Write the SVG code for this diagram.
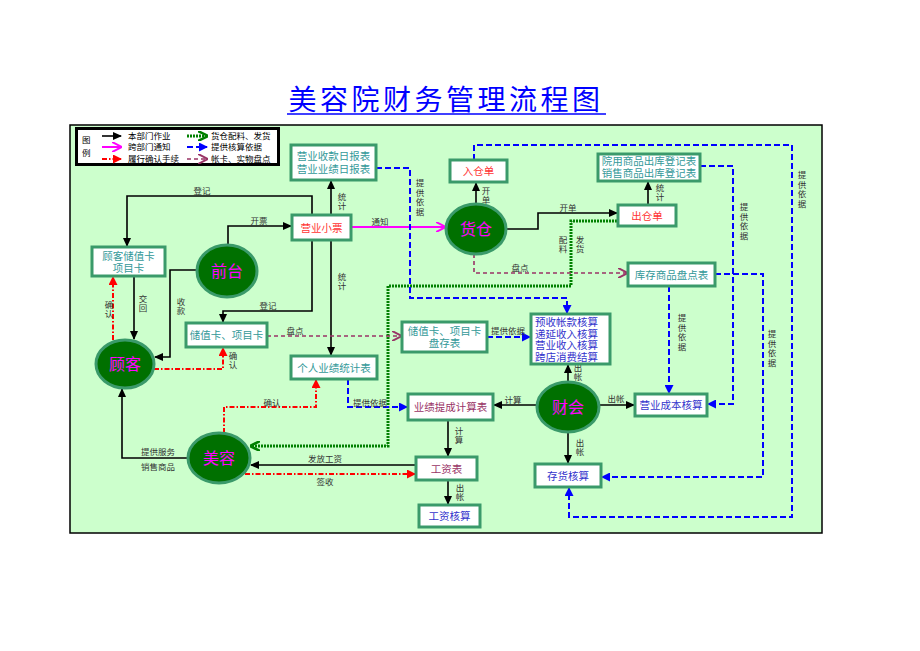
<svg xmlns="http://www.w3.org/2000/svg" width="920" height="651" viewBox="0 0 920 651">
<defs>
<marker id="aK" markerUnits="userSpaceOnUse" markerWidth="9" markerHeight="8" refX="8" refY="4" orient="auto"><path d="M0,0 L9,4 L0,8 z" fill="#000"/></marker>
<marker id="aM" markerUnits="userSpaceOnUse" markerWidth="10" markerHeight="10" refX="9" refY="5" orient="auto"><path d="M0,0 L10,5 L0,10" fill="none" stroke="#FF00FF" stroke-width="2"/></marker>
<marker id="aR" markerUnits="userSpaceOnUse" markerWidth="9" markerHeight="9" refX="8" refY="4.5" orient="auto"><path d="M0,0 L9,4.5 L0,9 z" fill="#FF0000"/></marker>
<marker id="aB" markerUnits="userSpaceOnUse" markerWidth="9" markerHeight="9" refX="8" refY="4.5" orient="auto"><path d="M0,0 L9,4.5 L0,9 z" fill="#0000FF"/></marker>
<marker id="aP" markerUnits="userSpaceOnUse" markerWidth="10" markerHeight="10" refX="9" refY="5" orient="auto"><path d="M0,0 L10,5 L0,10" fill="none" stroke="#993366" stroke-width="2"/></marker>
<marker id="aG" markerUnits="userSpaceOnUse" markerWidth="10" markerHeight="10" refX="9" refY="5" orient="auto"><path d="M0,0 L10,5 L0,10" fill="none" stroke="#008000" stroke-width="2.5"/></marker>
</defs>
<style>
text{font-family:"Noto Sans CJK SC","Noto Sans",sans-serif;}
.box{fill:#fff;stroke:#3A9A6A;stroke-width:3;}
.ell{fill:#007000;stroke:#3A9A6A;stroke-width:3;}
.et{font-size:16px;fill:#FF00FF;text-anchor:middle;}
.tt{font-size:10.5px;fill:#339999;text-anchor:middle;}
.tr{font-size:10.5px;fill:#FF3333;text-anchor:middle;}
.tb{font-size:10.5px;fill:#3333CC;text-anchor:middle;}
.ts{font-size:10.5px;fill:#3333CC;text-anchor:start;}
.tm{font-size:10.5px;fill:#993366;text-anchor:middle;}
.lb{font-size:8.5px;fill:#333;text-anchor:middle;}
.v{font-size:8.5px;fill:#333;text-anchor:middle;writing-mode:vertical-rl;letter-spacing:1.2px;}
.lg{font-size:8.5px;fill:#000;}
.k{fill:none;stroke:#000;stroke-width:1.6;}
.m{fill:none;stroke:#FF00FF;stroke-width:2;}
.r{fill:none;stroke:#FF0000;stroke-width:2;stroke-dasharray:5,2,1.5,2;}
.b{fill:none;stroke:#0000FF;stroke-width:2;stroke-dasharray:6,3;}
.p{fill:none;stroke:#993366;stroke-width:1.6;stroke-dasharray:4,3;}
.g{fill:none;stroke:#008000;stroke-width:3;stroke-dasharray:2,1;}
</style>
<rect width="920" height="651" fill="#fff"/>
<text x="446" y="110" font-size="28" fill="#0000FF" text-anchor="middle" letter-spacing="3.5">美容院财务管理流程图</text>
<line x1="287" y1="114" x2="606" y2="114" stroke="#0000FF" stroke-width="1.5"/>
<rect x="70" y="125" width="752" height="408" fill="#CCFFCC" stroke="#000" stroke-width="1.5"/>

<g id="legend">
<rect x="76.5" y="128.5" width="202" height="36" fill="#fff" stroke="#000" stroke-width="3"/>
<text class="lg" x="82" y="143"><tspan x="82" y="143">图</tspan><tspan x="82" y="156">例</tspan></text>
<line x1="102" y1="136" x2="121" y2="136" class="k" marker-end="url(#aK)"/>
<text class="lg" x="128" y="139">本部门作业</text>
<line x1="102" y1="147" x2="121" y2="147" class="m" marker-end="url(#aM)"/>
<text class="lg" x="128" y="150">跨部门通知</text>
<line x1="102" y1="159" x2="121" y2="159" class="r" marker-end="url(#aR)"/>
<text class="lg" x="128" y="162">履行确认手续</text>
<line x1="187" y1="136" x2="207" y2="136" class="g" marker-end="url(#aG)"/>
<text class="lg" x="211" y="139">货仓配料、发货</text>
<line x1="187" y1="147" x2="207" y2="147" class="b" marker-end="url(#aB)"/>
<text class="lg" x="211" y="150">提供核算依据</text>
<line x1="187" y1="159" x2="207" y2="159" class="p" marker-end="url(#aP)"/>
<text class="lg" x="211" y="162">帐卡、实物盘点</text>
</g>

<g id="connectors">
<path class="k" d="M312,215 V196 H127 V246" marker-end="url(#aK)"/>
<path class="k" d="M228,245 V226 H291" marker-end="url(#aK)"/>
<path class="k" d="M197,270 H170 V357 H155" marker-end="url(#aK)"/>
<path class="k" d="M134,276 V339" marker-end="url(#aK)"/>
<path class="k" d="M312,240 V311 H223 V322" marker-end="url(#aK)"/>
<path class="k" d="M331,300 V181" marker-end="url(#aK)"/>
<path class="k" d="M331,300 V355" marker-end="url(#aK)"/>
<path class="k" d="M476,204 V183" marker-end="url(#aK)"/>
<path class="k" d="M506,229 H538 V213 H617" marker-end="url(#aK)"/>
<path class="k" d="M648,205 V182" marker-end="url(#aK)"/>
<path class="k" d="M568,382 V365" marker-end="url(#aK)"/>
<path class="k" d="M537,405 H494" marker-end="url(#aK)"/>
<path class="k" d="M599,405 H634" marker-end="url(#aK)"/>
<path class="k" d="M568,432 V463" marker-end="url(#aK)"/>
<path class="k" d="M448,420 V456" marker-end="url(#aK)"/>
<path class="k" d="M448,480 V504" marker-end="url(#aK)"/>
<path class="k" d="M416,465 H251" marker-end="url(#aK)"/>
<path class="k" d="M188,458 H122 V389" marker-end="url(#aK)"/>
<path class="m" d="M351,227 H445" marker-end="url(#aM)"/>
<path class="r" d="M113,340 V277" marker-end="url(#aR)"/>
<path class="r" d="M154,369 H223 V348" marker-end="url(#aR)"/>
<path class="r" d="M224,433 V407 H316 V380" marker-end="url(#aR)"/>
<path class="r" d="M245,474 H415" marker-end="url(#aR)"/>
<path class="g" d="M617,221 H571 V286 H388 V446 H251" marker-end="url(#aG)"/>
<path class="b" d="M376,168 H410 V298 H567 V313" marker-end="url(#aB)"/>
<path class="b" d="M474,160 V145 H792 V517 H569 V488" marker-end="url(#aB)"/>
<path class="b" d="M700,166 H733 V404 H708" marker-end="url(#aB)"/>
<path class="b" d="M715,274 H763 V477 H602" marker-end="url(#aB)"/>
<path class="b" d="M669,286 V393" marker-end="url(#aB)"/>
<path class="b" d="M487,337 H530" marker-end="url(#aB)"/>
<path class="b" d="M348,379 V407 H407" marker-end="url(#aB)"/>
<path class="p" d="M267,336 H401" marker-end="url(#aP)"/>
<path class="p" d="M474,254 V273 H627" marker-end="url(#aP)"/>
<text class="lb" x="202" y="194">登记</text>
<text class="lb" x="259" y="224">开票</text>
<text class="lb" x="380" y="225">通知</text>
<text class="v" x="342" y="202">统计</text>
<text class="v" x="342" y="282">统计</text>
<text class="v" x="181" y="307">收款</text>
<text class="v" x="143" y="304">交回</text>
<text class="v" x="109" y="310">确认</text>
<text class="lb" x="268" y="309">登记</text>
<text class="lb" x="295" y="334">盘点</text>
<text class="v" x="233" y="361">确认</text>
<text class="lb" x="272" y="406">确认</text>
<text class="lb" x="370" y="406">提供依据</text>
<text class="lb" x="158" y="455">提供服务</text>
<text class="lb" x="158" y="470">销售商品</text>
<text class="lb" x="325" y="462">发放工资</text>
<text class="lb" x="325" y="485">签收</text>
<text class="v" x="486" y="196">开单</text>
<text class="v" x="420" y="198">提供依据</text>
<text class="lb" x="568" y="211">开单</text>
<text class="v" x="660" y="193">统计</text>
<text class="v" x="563" y="245">配料</text>
<text class="v" x="580" y="245">发货</text>
<text class="lb" x="520" y="271">盘点</text>
<text class="v" x="744" y="222">提供依据</text>
<text class="v" x="802" y="190">提供依据</text>
<text class="lb" x="508" y="334">提供依据</text>
<text class="v" x="682" y="333">提供依据</text>
<text class="v" x="772" y="349">提供依据</text>
<text class="v" x="578" y="373">出帐</text>
<text class="lb" x="513" y="403">计算</text>
<text class="lb" x="616" y="402">出帐</text>
<text class="v" x="580" y="448">出帐</text>
<text class="v" x="459" y="436">计算</text>
<text class="v" x="460" y="493">出帐</text>
</g>

<g id="n-daily"><rect class="box" x="291" y="145" width="85" height="35"/><text class="tt"><tspan x="333.5" y="160">营业收款日报表</tspan><tspan x="333.5" y="173">营业业绩日报表</tspan></text></g>
<g id="n-ticket"><rect class="box" x="292" y="215" width="59" height="25"/><text class="tr" x="321.5" y="231.5">营业小票</text></g>
<g id="n-custcard"><rect class="box" x="92" y="247" width="73" height="29"/><text class="tt"><tspan x="128.5" y="260">顾客储值卡</tspan><tspan x="128.5" y="272">项目卡</tspan></text></g>
<g id="n-front"><ellipse class="ell" cx="227" cy="271" rx="30" ry="26"/><text class="et" x="227" y="277">前台</text></g>
<g id="n-customer"><ellipse class="ell" cx="125" cy="364" rx="29" ry="24"/><text class="et" x="125" y="370">顾客</text></g>
<g id="n-card"><rect class="box" x="186" y="323" width="81" height="24"/><text class="tt" x="226.5" y="339">储值卡、项目卡</text></g>
<g id="n-perf"><rect class="box" x="291" y="356" width="86" height="23"/><text class="tt" x="334" y="371.5">个人业绩统计表</text></g>
<g id="n-beauty"><ellipse class="ell" cx="219" cy="458" rx="31" ry="25"/><text class="et" x="219" y="464">美容</text></g>
<g id="n-in"><rect class="box" x="450" y="160" width="57" height="22"/><text class="tr" x="478.5" y="175">入仓单</text></g>
<g id="n-store"><ellipse class="ell" cx="476" cy="229" rx="30" ry="25"/><text class="et" x="476" y="235">货仓</text></g>
<g id="n-outreg"><rect class="box" x="598" y="154" width="102" height="27"/><text class="tt"><tspan x="649" y="165">院用商品出库登记表</tspan><tspan x="649" y="177">销售商品出库登记表</tspan></text></g>
<g id="n-out"><rect class="box" x="618" y="205" width="58" height="21"/><text class="tr" x="647" y="219.5">出仓单</text></g>
<g id="n-stock"><rect class="box" x="628" y="263" width="87" height="23"/><text class="tt" x="671.5" y="278.5">库存商品盘点表</text></g>
<g id="n-cardstock"><rect class="box" x="402" y="322" width="85" height="30"/><text class="tt"><tspan x="444.5" y="335">储值卡、项目卡</tspan><tspan x="444.5" y="347">盘存表</tspan></text></g>
<g id="n-acct"><rect class="box" x="531" y="314" width="79" height="50"/><text class="ts"><tspan x="535" y="326">预收帐款核算</tspan><tspan x="535" y="337.5">递延收入核算</tspan><tspan x="535" y="349">营业收入核算</tspan><tspan x="535" y="360.5">跨店消费结算</tspan></text></g>
<g id="n-finance"><ellipse class="ell" cx="568" cy="407" rx="31" ry="25"/><text class="et" x="568" y="413">财会</text></g>
<g id="n-cost"><rect class="box" x="635" y="394" width="72" height="22"/><text class="tb" x="671" y="409">营业成本核算</text></g>
<g id="n-commission"><rect class="box" x="408" y="394" width="85" height="26"/><text class="tm" x="450.5" y="411">业绩提成计算表</text></g>
<g id="n-salary"><rect class="box" x="416" y="457" width="61" height="23"/><text class="tm" x="446.5" y="472.5">工资表</text></g>
<g id="n-salacct"><rect class="box" x="419" y="505" width="61" height="22"/><text class="tb" x="449.5" y="520">工资核算</text></g>
<g id="n-inv"><rect class="box" x="535" y="464" width="66" height="23"/><text class="tb" x="568" y="479.5">存货核算</text></g>
</svg>
